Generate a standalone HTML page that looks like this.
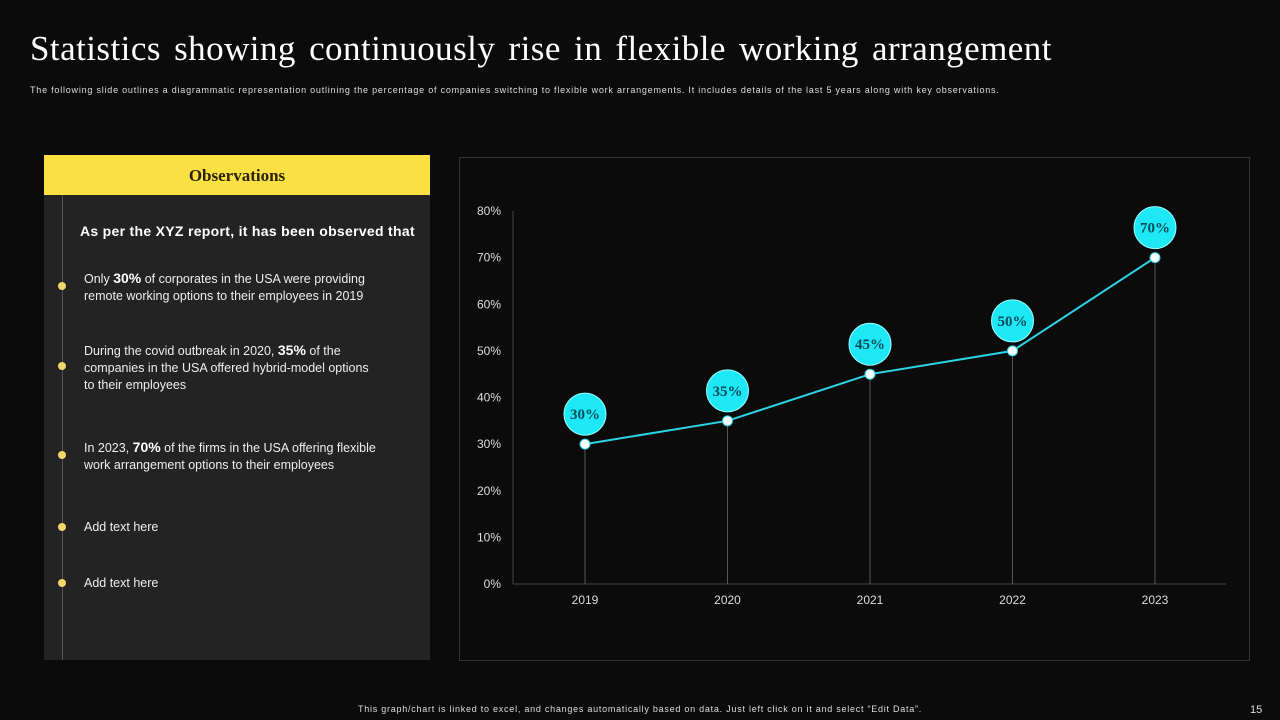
<!DOCTYPE html>
<html><head><meta charset="utf-8"><style>
body{margin:0;width:1280px;height:720px;background:#0b0b0b;font-family:"Liberation Sans",sans-serif;color:#fff;position:relative;overflow:hidden}
.abs{position:absolute}
.title{left:30px;top:29px;font-family:"Liberation Serif",serif;font-size:35px;word-spacing:4px;letter-spacing:0.45px;color:#fff}
.sub{left:30px;top:85px;font-size:9px;letter-spacing:0.78px;color:#ddd}
.panel{left:44px;top:155px;width:386px;height:505px;background:#232323}
.head{left:44px;top:155px;width:386px;height:40px;background:#fbe044;color:#2a2200;font-family:"Liberation Serif",serif;font-weight:bold;font-size:17px;text-align:center;line-height:42px}
.vline{left:62px;top:195px;width:1px;height:465px;background:#555}
.dot{width:8px;height:8px;border-radius:50%;background:#f1d86a;left:58px}
.item{left:84px;font-size:12.5px;line-height:17px;color:#eee}
.item b{font-size:14px;color:#fff}
.chartbox{left:459px;top:157px;width:791px;height:504px;border:1px solid #333;box-sizing:border-box}
.foot{left:0;width:1280px;top:704px;text-align:center;font-size:9px;letter-spacing:0.75px;color:#ddd}
</style></head><body>
<div class="abs title">Statistics showing continuously rise in flexible working arrangement</div>
<div class="abs sub">The following slide outlines a diagrammatic representation outlining the percentage of companies switching to flexible work arrangements. It includes details of the last 5 years along with key observations.</div>
<div class="abs panel"></div>
<div class="abs head">Observations</div>
<div class="abs vline"></div>
<div class="abs" style="left:80px;top:223px;font-size:14px;font-weight:bold;letter-spacing:0.3px">As per the XYZ report, it has been observed that</div>
<div class="abs dot" style="top:282px"></div>
<div class="abs item" style="top:270px">Only <b>30%</b> of corporates in the USA were providing<br>remote working options to their employees in 2019</div>
<div class="abs dot" style="top:362px"></div>
<div class="abs item" style="top:342px">During the covid outbreak in 2020, <b>35%</b> of the<br>companies in the USA offered hybrid-model options<br>to their employees</div>
<div class="abs dot" style="top:451px"></div>
<div class="abs item" style="top:439px">In 2023, <b>70%</b> of the firms in the USA offering flexible<br>work arrangement options to their employees</div>
<div class="abs dot" style="top:523px"></div>
<div class="abs item" style="top:519px">Add text here</div>
<div class="abs dot" style="top:579px"></div>
<div class="abs item" style="top:575px">Add text here</div>
<div class="abs chartbox"></div>
<svg class="abs" style="left:0;top:0" width="1280" height="720" id="chart"></svg>
<div class="abs foot">This graph/chart is linked to excel, and changes automatically based on data. Just left click on it and select “Edit Data”.</div>
<div class="abs" style="left:1250px;top:704px;font-size:11px;color:#ddd">15</div>
<script>
const categories=["2019","2020","2021","2022","2023"];
const values=[30,35,45,50,70];
const yTicks=[0,10,20,30,40,50,60,70,80];
const NS="http://www.w3.org/2000/svg";
const svg=document.getElementById('chart');
const x0=585,dx=142.5,yBase=584,yTop=211,yMax=80;
const xs=i=>x0+i*dx;
const ys=v=>yBase-(v/yMax)*(yBase-yTop);
function mk(t,a){const e=document.createElementNS(NS,t);for(const k in a)e.setAttribute(k,a[k]);svg.appendChild(e);return e;}
let e=mk('line',{x1:513,y1:ys(80),x2:513,y2:yBase,stroke:'#444'});

e=mk('line',{x1:513,y1:yBase,x2:1226,y2:yBase,stroke:'#444'});

yTicks.forEach(v=>{const t=mk('text',{x:501,y:ys(v)+4,'text-anchor':'end',fill:'#ddd','font-size':12,'font-family':'Liberation Sans'});t.textContent=v+'%';
});
categories.forEach((c,i)=>{const t=mk('text',{x:xs(i),y:604,'text-anchor':'middle',fill:'#ddd','font-size':12,'font-family':'Liberation Sans'});t.textContent=c;

const l=mk('line',{x1:xs(i),y1:ys(values[i]),x2:xs(i),y2:yBase,stroke:'#555'});
});
const p=mk('polyline',{points:values.map((v,i)=>xs(i)+','+ys(v)).join(' '),fill:'none',stroke:'#2bd4e4','stroke-width':2});

values.forEach((v,i)=>{const c=mk('circle',{cx:xs(i),cy:ys(v),r:5,fill:'#fff',stroke:'#2bd4e4','stroke-width':1});

const b=mk('circle',{cx:xs(i),cy:ys(v)-30,r:21,fill:'#1ee8f5',stroke:'#9ff','stroke-width':1});

const t=mk('text',{x:xs(i),y:ys(v)-25,'text-anchor':'middle',fill:'#0b4b5a','font-size':15,'font-weight':'bold','font-family':'Liberation Serif'});t.textContent=v+'%';
});
</script>
</body></html>
